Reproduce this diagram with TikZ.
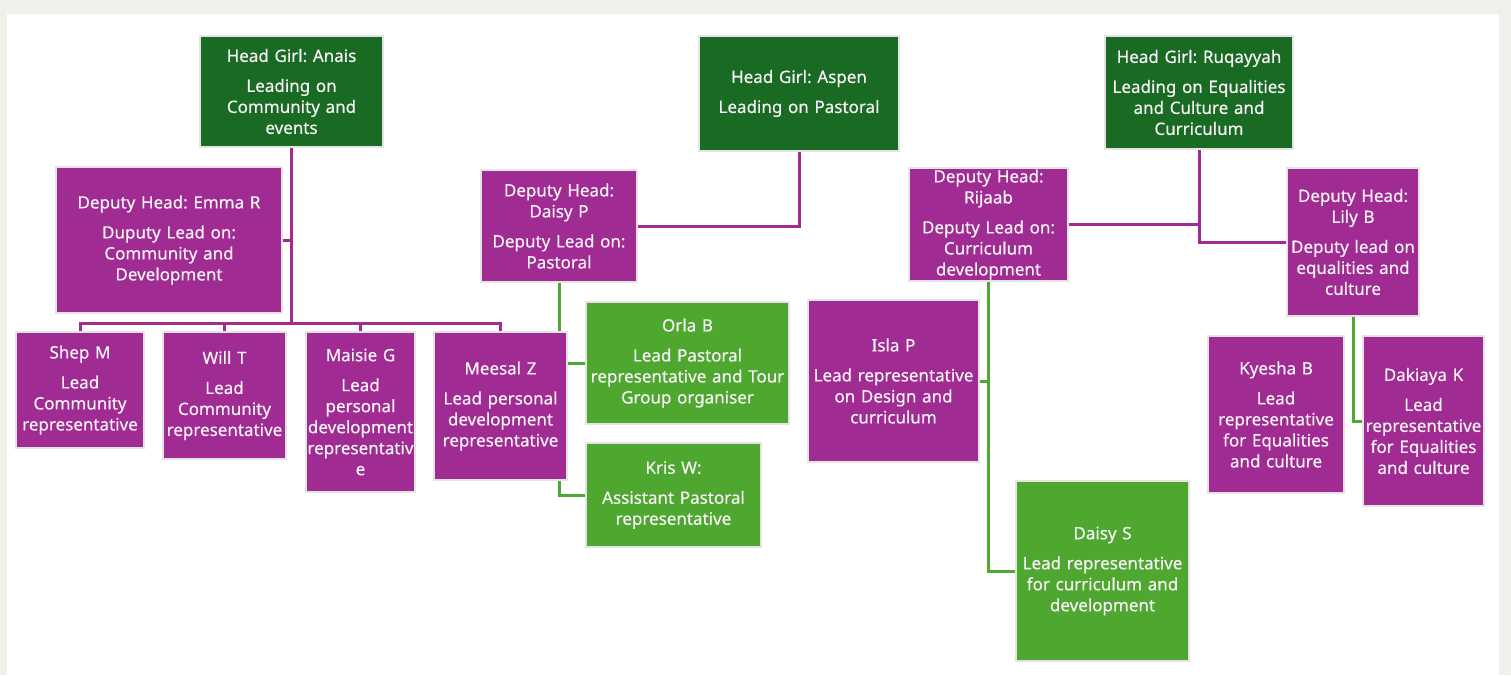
\documentclass[tikz,border=0pt]{standalone}
\usepackage{fontspec}
\setmainfont{Noto Sans}[FakeBold=0.4]
\frenchspacing
\definecolor{outerbg}{HTML}{F0EFEA}
\definecolor{dkgreen}{HTML}{196B24}
\definecolor{ltgreen}{HTML}{4EA72E}
\definecolor{purp}{HTML}{A02B93}
\definecolor{edgegray}{HTML}{E4E4E4}
\definecolor{txt}{HTML}{F7F2F6}
\pgfdeclarelayer{panel}
\pgfdeclarelayer{links}
\pgfsetlayers{panel,links,main}
\tikzset{
  box/.style={rectangle, inner sep=0pt, outer sep=0pt, align=center, text=txt,
    font=\fontsize{17}{21}\selectfont, draw=edgegray, line width=1.5pt},
  hg/.style={box, fill=dkgreen},
  pb/.style={box, fill=purp},
  gb/.style={box, fill=ltgreen},
  pline/.style={draw=purp, line width=3pt},
  gline/.style={draw=ltgreen, line width=3pt}
}
\begin{document}
\begin{tikzpicture}[x=1pt,y=-1pt]
\begin{pgfonlayer}{panel}
\fill[outerbg] (0,0) rectangle (1511,675);
\fill[white] (7,14) rectangle (1499,675);
\end{pgfonlayer}
\useasboundingbox (0,0) rectangle (1511,675);

% head girls
\node[hg, text width=183pt, minimum height=111pt] (anais) at (291.5,91.5) {Head Girl: Anais\\[9pt]Leading on\\Community and\\events};
\node[hg, text width=200pt, minimum height=115pt] (aspen) at (799,93.5) {Head Girl: Aspen\\[9pt]Leading on Pastoral};
\node[hg, text width=188pt, minimum height=113pt] (ruq) at (1199,92.5) {Head Girl: Ruqayyah\\[9pt]Leading on Equalities\\and Culture and\\Curriculum};

% deputies
\node[pb, text width=226pt, minimum height=146pt] (emma) at (169,240) {Deputy Head: Emma R\\[9pt]Duputy Lead on:\\Community and\\Development};
\node[pb, text width=156pt, minimum height=112pt] (daisyp) at (559,226) {Deputy Head:\\Daisy P\\[9pt]Deputy Lead on:\\Pastoral};
\node[pb, text width=159pt, minimum height=113pt] (rijaab) at (988.5,224.5) {Deputy Head:\\Rijaab\\[9pt]Deputy Lead on:\\Curriculum\\development};
\node[pb, text width=132pt, minimum height=148pt] (lily) at (1353,242) {Deputy Head:\\Lily B\\[9pt]Deputy lead on\\equalities and\\culture};

% representatives
\node[pb, text width=128pt, minimum height=116pt] (shep) at (80,390) {Shep M\\[9pt]Lead\\Community\\representative};
\node[pb, text width=123pt, minimum height=127pt] (will) at (224.5,395.5) {Will T\\[9pt]Lead\\Community\\representative};
\node[pb, text width=109pt, minimum height=160pt] (maisie) at (360.5,412) {Maisie G\\[9pt]Lead\\personal\\development\\representativ\\e};
\node[pb, text width=133pt, minimum height=148pt] (meesal) at (500.5,406) {Meesal Z\\[9pt]Lead personal\\development\\representative};
\node[gb, text width=203pt, minimum height=122pt] (orla) at (687.5,363) {Orla B\\[9pt]Lead Pastoral\\representative and Tour\\Group organiser};
\node[gb, text width=175pt, minimum height=104pt] (kris) at (673.5,495) {Kris W:\\[9pt]Assistant Pastoral\\representative};
\node[pb, text width=171pt, minimum height=162pt] (isla) at (893.5,381) {Isla P\\[9pt]Lead representative\\on Design and\\curriculum};
\node[gb, text width=173pt, minimum height=180pt] (daisys) at (1102.5,571) {Daisy S\\[9pt]Lead representative\\for curriculum and\\development};
\node[pb, text width=136pt, minimum height=157pt] (kyesha) at (1276,414.5) {Kyesha B\\[9pt]Lead\\representative\\for Equalities\\and culture};
\node[pb, text width=121pt, minimum height=170pt] (dakiaya) at (1423.5,421) {Dakiaya K\\[9pt]Lead\\representative\\for Equalities\\and culture};

\coordinate (bus) at (0,323);

\begin{pgfonlayer}{links}
% Anais tree
\draw[pline] (anais.south) -- (anais.south |- bus);
\draw[pline] (emma.east) -- (emma.east -| anais.south);
\draw[pline] (shep.north) -- (shep.north |- bus) -- (meesal.north |- bus) -- (meesal.north);
\draw[pline] (will.north) -- (will.north |- bus);
\draw[pline] (maisie.north) -- (maisie.north |- bus);
% Aspen tree
\draw[pline] (aspen.south) |- (daisyp.east);
\draw[gline] (daisyp.south) |- (kris.west);
\draw[gline] (orla.west) -- (orla.west -| daisyp.south);
% Ruqayyah tree
\draw[pline] (ruq.south) |- (lily.west);
\draw[pline] (rijaab.east) -- (rijaab.east -| ruq.south);
\draw[gline] (rijaab.south) |- (daisys.west);
\draw[gline] (isla.east) -- (isla.east -| rijaab.south);
\draw[gline] (lily.south) |- (dakiaya.west);
\end{pgfonlayer}
\end{tikzpicture}
\end{document}
